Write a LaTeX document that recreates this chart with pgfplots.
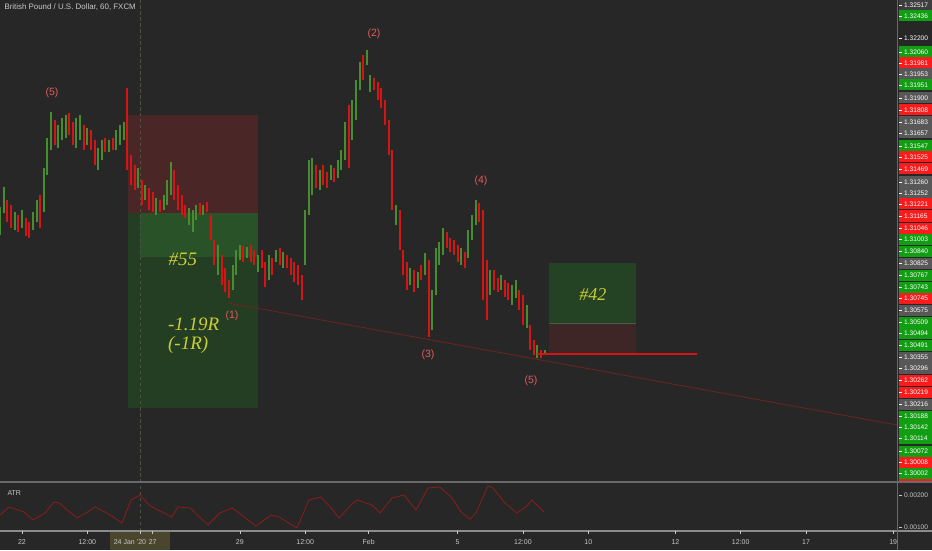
\documentclass[border=0pt]{standalone}
\usepackage{fontspec}
\setmainfont{Liberation Serif}
\setsansfont{Liberation Sans}
\usepackage{pgfplots}
\pgfplotsset{compat=1.18}
\usepackage{pgfplotstable}

\definecolor{bgc}{RGB}{39,39,39}
\definecolor{gcol}{RGB}{72,140,48}
\definecolor{rcol}{RGB}{215,20,20}
\definecolor{boxred}{RGB}{74,38,38}
\definecolor{boxgreenL}{RGB}{42,82,40}
\definecolor{boxgreenD}{RGB}{35,62,34}
\definecolor{bfg}{RGB}{36,66,36}
\definecolor{bfr}{RGB}{62,38,38}
\definecolor{yel}{RGB}{205,205,55}
\definecolor{wave}{RGB}{230,90,90}
\definecolor{trend}{RGB}{110,35,35}
\definecolor{tgreen}{RGB}{18,158,18}
\definecolor{tred}{RGB}{250,28,28}
\definecolor{tgray}{RGB}{88,88,88}
\definecolor{tgrayd}{RGB}{62,62,62}
\definecolor{atrc}{RGB}{140,28,28}
\definecolor{sep}{RGB}{105,105,105}
\definecolor{sepb}{RGB}{140,140,140}
\definecolor{txt}{RGB}{200,200,200}
\definecolor{cross}{RGB}{80,80,66}
\definecolor{crossbox}{RGB}{74,70,46}

\pgfplotstableread{
b hi lo
-12 1.31355 1.31215
-10 1.31455 1.31325
-4 1.31330 1.31240
0 1.31340 1.31250
6 1.31330 1.31240
8 1.31390 1.31280
12 1.31550 1.31330
14 1.31700 1.31515
16 1.31830 1.31640
20 1.31765 1.31650
22 1.31800 1.31690
24 1.31815 1.31700
30 1.31800 1.31650
32 1.31815 1.31690
36 1.31750 1.31665
42 1.31650 1.31540
44 1.31690 1.31590
48 1.31690 1.31630
52 1.31740 1.31640
54 1.31765 1.31665
56 1.31780 1.31690
64 1.31550 1.31450
68 1.31465 1.31390
74 1.31400 1.31315
78 1.31415 1.31340
80 1.31490 1.31365
82 1.31580 1.31415
92 1.31350 1.31265
94 1.31340 1.31230
96 1.31365 1.31290
100 1.31365 1.31315
108 1.31165 1.31015
116 1.31065 1.30940
118 1.31140 1.31015
120 1.31165 1.31090
124 1.31155 1.31100
130 1.31115 1.31030
136 1.31115 1.30990
140 1.31140 1.31080
144 1.31130 1.31050
156 1.31340 1.31065
158 1.31590 1.31315
160 1.31600 1.31415
164 1.31540 1.31440
170 1.31565 1.31490
174 1.31590 1.31500
176 1.31640 1.31540
178 1.31780 1.31590
182 1.31890 1.31690
184 1.31990 1.31790
186 1.32080 1.31940
190 1.32140 1.32065
192 1.32015 1.31930
206 1.31365 1.31265
214 1.31050 1.30965
218 1.31030 1.30950
222 1.31125 1.31015
226 1.30940 1.30740
228 1.31150 1.30915
230 1.31180 1.31065
232 1.31250 1.31115
242 1.31150 1.31065
246 1.31240 1.31100
248 1.31315 1.31190
250 1.31390 1.31265
258 1.31040 1.30915
264 1.31015 1.30940
270 1.30965 1.30865
272 1.30990 1.30900
278 1.30865 1.30750
284 1.30665 1.30600
288 1.30640 1.30615
}\greenbars

\pgfplotstableread{
b hi lo
-8 1.31390 1.31280
-6 1.31365 1.31250
-2 1.31315 1.31230
2 1.31300 1.31210
4 1.31280 1.31200
10 1.31415 1.31250
18 1.31790 1.31665
26 1.31825 1.31715
28 1.31780 1.31665
34 1.31765 1.31640
38 1.31740 1.31640
40 1.31690 1.31565
46 1.31700 1.31630
50 1.31700 1.31640
58 1.31950 1.31540
60 1.31615 1.31465
62 1.31565 1.31440
66 1.31490 1.31365
70 1.31450 1.31340
72 1.31430 1.31330
76 1.31390 1.31330
84 1.31540 1.31390
86 1.31465 1.31340
88 1.31415 1.31315
90 1.31365 1.31300
98 1.31375 1.31315
102 1.31380 1.31330
104 1.31315 1.31190
106 1.31190 1.31065
110 1.31115 1.30965
112 1.31050 1.30930
114 1.30990 1.30900
122 1.31160 1.31080
126 1.31165 1.31080
128 1.31140 1.31065
132 1.31140 1.31050
134 1.31080 1.30955
138 1.31100 1.31015
142 1.31150 1.31065
146 1.31115 1.31050
148 1.31100 1.31015
150 1.31080 1.30980
152 1.31065 1.30965
154 1.31015 1.30890
162 1.31565 1.31450
166 1.31565 1.31465
168 1.31530 1.31450
172 1.31550 1.31480
180 1.31865 1.31550
188 1.32115 1.31990
194 1.32000 1.31940
196 1.31980 1.31890
198 1.31950 1.31850
200 1.31890 1.31765
202 1.31790 1.31615
204 1.31640 1.31340
208 1.31340 1.31140
210 1.31140 1.31015
212 1.31080 1.30940
216 1.31040 1.30930
220 1.31065 1.30990
224 1.31090 1.30705
234 1.31230 1.31150
236 1.31200 1.31130
238 1.31190 1.31115
240 1.31165 1.31080
244 1.31130 1.31050
252 1.31375 1.31280
254 1.31340 1.30890
256 1.31090 1.30790
260 1.31040 1.30940
262 1.31000 1.30930
266 1.30990 1.30905
268 1.30975 1.30890
274 1.30940 1.30840
276 1.30915 1.30765
280 1.30765 1.30640
282 1.30690 1.30615
286 1.30640 1.30600
}\redbars

\pgfplotstableread{
b v
-12.1 0.001375
-7.2 0.001625
1.1 0.001469
6.1 0.001219
12.7 0.001438
17.6 0.001781
20.4 0.001750
30.3 0.001281
35.3 0.001438
40.2 0.001625
46.8 0.001438
55.1 0.001125
60.1 0.001844
65.0 0.002000
70.0 0.001688
74.9 0.001531
82.6 0.001313
85.9 0.001625
92.6 0.001594
102.5 0.001063
109.1 0.001438
115.7 0.001594
119.0 0.001469
128.9 0.001031
137.2 0.001375
141.6 0.001313
151.5 0.000969
158.1 0.001844
164.7 0.001938
171.3 0.001531
174.7 0.001281
181.3 0.001688
184.6 0.001844
192.8 0.001688
197.2 0.001438
203.9 0.001906
210.5 0.002000
217.1 0.001531
223.7 0.002219
230.3 0.002250
236.9 0.001906
241.9 0.001469
246.8 0.001250
250.1 0.001438
256.7 0.002281
259.5 0.002219
266.1 0.001750
272.7 0.001438
277.7 0.001625
281.0 0.001844
287.6 0.001469
}\atrdata

\begin{document}
\begin{tikzpicture}[x=1pt,y=1pt]
\fill[bgc] (0,0) rectangle (932,550);

% crosshair dashed line
\draw[cross, line width=0.8pt, dash pattern=on 3pt off 3pt] (140,19) -- (140,550);

\begin{axis}[at={(0pt,68pt)}, anchor=south west, width=897pt, height=482pt,
  scale only axis,
  xmin=-12.12, xmax=482.1, ymin=1.2998, ymax=1.3239, hide axis]
  % position #55
  \fill[boxred] (axis cs:58.4,1.31815) rectangle (axis cs:130,1.31325);
  \fill[boxgreenD] (axis cs:58.4,1.31325) rectangle (axis cs:130,1.30350);
  \fill[boxgreenL] (axis cs:65,1.31325) rectangle (axis cs:130,1.31105);
  \draw[cross, line width=0.8pt, dash pattern=on 3pt off 3pt] (axis cs:65,1.2998) -- (axis cs:65,1.3239);
  % position #42
  \fill[bfg] (axis cs:290.4,1.31075) rectangle (axis cs:338.3,1.30775);
  \fill[bfr] (axis cs:290.4,1.30775) rectangle (axis cs:338.3,1.30625);
  \draw[bfg!60!gray, line width=0.8pt] (axis cs:290.4,1.30775) -- (axis cs:338.3,1.30775);
  % trend line
  \addplot[trend, line width=0.8pt, forget plot] coordinates {(113.5,1.30875) (482.1,1.30265)};
  % candles
  \addplot[draw=none, mark=none, forget plot,
    error bars/.cd, y dir=plus, y explicit, error mark=none,
    error bar style={draw=gcol, line width=2pt}]
    table[x=b, y=lo, y error expr=\thisrow{hi}-\thisrow{lo}] {\greenbars};
  \addplot[draw=none, mark=none, forget plot,
    error bars/.cd, y dir=plus, y explicit, error mark=none,
    error bar style={draw=rcol, line width=2pt}]
    table[x=b, y=lo, y error expr=\thisrow{hi}-\thisrow{lo}] {\redbars};
  % entry line #42
  \addplot[draw=rcol, line width=1.3pt, forget plot] coordinates {(283.7,1.3062) (371.9,1.3062)};
  % texts
  \node[text=yel, font=\itshape\fontsize{19}{20}\selectfont] at (axis cs:88.7,1.31095) {\#55};
  \node[text=yel, font=\itshape\fontsize{19}{20}\selectfont, anchor=west, inner sep=0pt] at (axis cs:80.4,1.3077) {-1.19R};
  \node[text=yel, font=\itshape\fontsize{19}{20}\selectfont, anchor=west, inner sep=0pt] at (axis cs:80.4,1.30665) {(-1R)};
  \node[text=yel, font=\itshape\fontsize{18}{19}\selectfont] at (axis cs:314.6,1.30915) {\#42};
  % wave labels
  \node[text=wave, font=\sffamily\fontsize{10.5}{12}\selectfont] at (axis cs:16.5,1.31925) {(5)};
  \node[text=wave, font=\sffamily\fontsize{10.5}{12}\selectfont] at (axis cs:115.7,1.30810) {(1)};
  \node[text=wave, font=\sffamily\fontsize{10.5}{12}\selectfont] at (axis cs:193.9,1.32220) {(2)};
  \node[text=wave, font=\sffamily\fontsize{10.5}{12}\selectfont] at (axis cs:223.7,1.30615) {(3)};
  \node[text=wave, font=\sffamily\fontsize{10.5}{12}\selectfont] at (axis cs:252.9,1.31485) {(4)};
  \node[text=wave, font=\sffamily\fontsize{10.5}{12}\selectfont] at (axis cs:280.4,1.30485) {(5)};
\end{axis}

\begin{axis}[at={(0pt,19pt)}, anchor=south west, width=897pt, height=49pt,
  scale only axis,
  xmin=-12.12, xmax=482.1, ymin=0.000875, ymax=0.0024063, hide axis]
  \addplot[atrc, line width=0.8pt] table[x=b, y=v] {\atrdata};
\end{axis}

% separators
\draw[sep, line width=1.5pt] (0,68) -- (932,68);
\draw[sepb, line width=1.2pt] (0,19) -- (932,19);
\draw[sep, line width=1pt] (897.5,0) -- (897.5,550);

% title and ATR label
\node[anchor=west, text=txt, font=\sffamily\fontsize{7.9}{9}\selectfont] at (1,543) {British Pound / U.S. Dollar, 60, FXCM};
\node[anchor=west, text=txt, font=\sffamily\fontsize{7}{8}\selectfont] at (4,57) {ATR};

% price scale tags
\foreach \yy/\lab/\col in {5/1.32517/tgrayd,16/1.32436/tgreen,38/1.32200/bgc,52/1.32060/tgreen,63/1.31981/tred,74/1.31953/tgray,85/1.31951/tgreen,98/1.31900/tgray,110/1.31808/tred,122/1.31683/tgray,133/1.31657/tgray,146/1.31547/tgreen,157/1.31525/tred,169/1.31469/tred,182/1.31260/tgray,193/1.31252/tgray,204/1.31221/tred,216/1.31165/tred,228/1.31046/tred,239/1.31003/tgreen,251/1.30840/tgreen,263/1.30825/tgray,275/1.30767/tgreen,287/1.30743/tgreen,298/1.30745/tred,310/1.30575/tgray,322/1.30509/tgreen,333/1.30494/tgreen,345/1.30491/tgreen,357/1.30355/tgray,368/1.30296/tgray,380/1.30262/tred,392/1.30219/tred,404/1.30216/tgray,416/1.30188/tgreen,427/1.30142/tgreen,438/1.30114/tgreen,451/1.30072/tgreen,462/1.30008/tred,473/1.30002/tgreen}{
  \fill[\col] (898.5,{550-\yy-5.5}) rectangle (932,{550-\yy+5.5});
  \draw[white, line width=0.6pt] (899,{550-\yy}) -- (902,{550-\yy});
  \node[anchor=west, inner sep=0pt, text=white, font=\sffamily\fontsize{6.6}{7}\selectfont] at (904,{550-\yy}) {\lab};
}
\fill[tred] (898.5,68.8) rectangle (932,71);

% ATR scale labels
\foreach \yy/\lab in {55/0.00200,23/0.00100}{
  \draw[txt, line width=0.6pt] (899,\yy) -- (902,\yy);
  \node[anchor=west, inner sep=0pt, text=txt, font=\sffamily\fontsize{6.6}{7}\selectfont] at (904,\yy) {\lab};
}

% crosshair label
\fill[crossbox] (110,0) rectangle (170,18);
\node[text=txt, font=\sffamily\fontsize{7}{8}\selectfont] at (130,8) {24 Jan '20};

% time axis labels
\foreach \bb/\lab in {0/22,36/12:00,72/27,120/29,156/12:00,191/Feb,240/5,276/12:00,312/10,360/12,396/12:00,432/17,480/19}{
  \draw[txt, line width=0.6pt] ({22+1.815*\bb},19) -- ({22+1.815*\bb},16);
  \node[text=txt, font=\sffamily\fontsize{7}{8}\selectfont] at ({22+1.815*\bb},8) {\lab};
}
\draw[txt, line width=0.6pt] (140,19) -- (140,16);
\pgfresetboundingbox
\path[use as bounding box] (0,0) rectangle (932,550);
\end{tikzpicture}
\end{document}
